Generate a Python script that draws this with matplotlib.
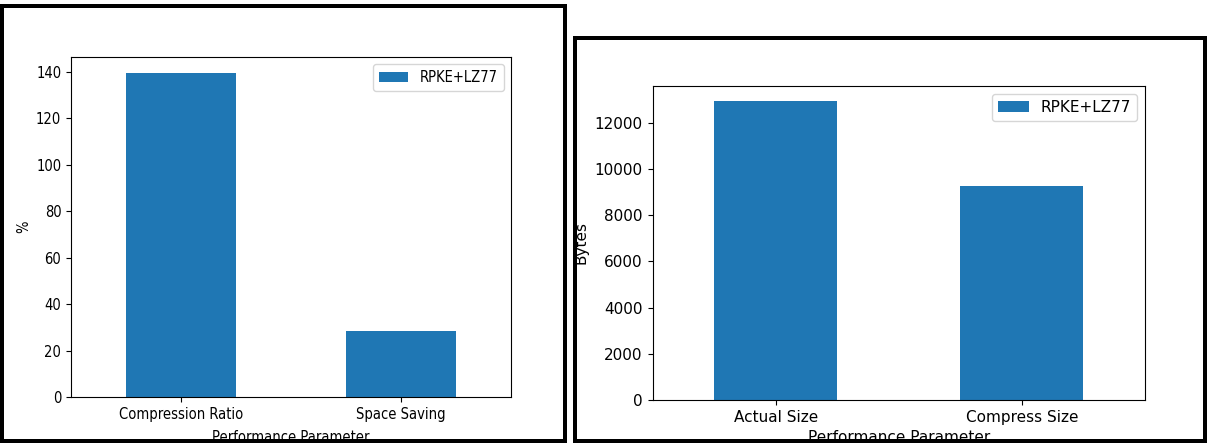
import matplotlib
matplotlib.use('Agg')
import matplotlib.pyplot as plt
from matplotlib.patches import Rectangle

# data
ratio_labels = ['Compression Ratio', 'Space Saving']
ratio_values = [139.5, 28.3]
size_labels = ['Actual Size', 'Compress Size']
size_values = [12950, 9280]
series_name = 'RPKE+LZ77'

W, H = 1213, 443
fig = plt.figure(figsize=(W / 100, H / 100), dpi=100)

def px_box(x0, y0, x1, y1):
    # pixel box (top-down y) -> figure fraction [left, bottom, width, height]
    return [x0 / W, (H - y1) / H, (x1 - x0) / W, (y1 - y0) / H]

def bar_panel(rect, labels, values, ylabel, fs, stretch, xlab_y, ylab_x):
    ax = fig.add_axes(rect)
    x = range(len(labels))
    ax.bar(x, values, width=0.5, color='#1f77b4', label=series_name)
    ax.set_xlim(-0.5, len(labels) - 0.5)
    ax.set_ylim(0, max(values) * 1.05)
    ax.set_xticks(list(x))
    ax.set_xticklabels(labels)
    for t in ax.get_xticklabels() + ax.get_yticklabels():
        t.set_fontsize(fs)
        t.set_fontstretch(stretch)
    ax.set_xlabel('Performance Parameter', fontsize=fs, fontstretch=stretch)
    ax.set_ylabel(ylabel, fontsize=fs, fontstretch=stretch)
    ax.xaxis.set_label_coords(0.5, xlab_y)
    ax.yaxis.set_label_coords(ylab_x, 0.5)
    ax.legend(loc='upper right', prop={'size': fs, 'stretch': stretch})
    return ax

bar_panel(px_box(71, 57, 511, 397), ratio_labels, ratio_values, '%', 10.5, 'condensed', -0.097, -0.09)
bar_panel(px_box(652.5, 86, 1145, 400), size_labels, size_values, 'Bytes', 11, 'normal', -0.095, -0.13)

# black screenshot frames
lw = 4 * 72 / 100
for x0, y0, x1, y1 in [(2, 6, 565, 441), (574.7, 38, 1204.7, 441)]:
    b = px_box(x0, y0, x1, y1)
    fig.patches.append(Rectangle((b[0], b[1]), b[2], b[3], transform=fig.transFigure,
                                 fill=False, edgecolor='black', linewidth=lw, zorder=10))

fig.savefig('out.png', dpi=100)
